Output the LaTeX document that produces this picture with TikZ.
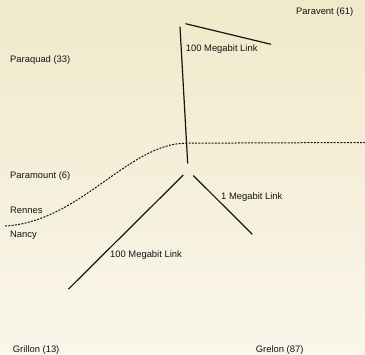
\documentclass[tikz,border=0pt]{standalone}
\usepackage{fontspec}
\setmainfont{Liberation Sans}
\definecolor{bgtop}{RGB}{240,233,202}
\definecolor{bgbot}{RGB}{250,246,234}
\definecolor{ink}{RGB}{20,20,20}
\begin{document}
\begin{tikzpicture}[x=1pt,y=-1pt,
  lbl/.style={anchor=base west,inner sep=0pt,font=\fontsize{9.4}{11}\selectfont,text=ink},
  link/.style={line width=1.2pt,draw=ink},
  border/.style={line width=1pt,draw=ink,dash pattern=on 2pt off 1.3pt}]
\useasboundingbox (0,0) rectangle (365,355);
\shade[top color=bgtop,bottom color=bgbot] (0,0) rectangle (365,355);
% labels
\node[lbl] (paravent) at (296,14.7) {Paravent (61)};
\node[lbl] (linkA) at (185.7,52) {100 Megabit Link};
\node[lbl] (paraquad) at (10,62.3) {Paraquad (33)};
\node[lbl] (paramount) at (10,179) {Paramount (6)};
\node[lbl] (linkB) at (221,199.3) {1 Megabit Link};
\node[lbl] (rennes) at (10,214) {Rennes};
\node[lbl] (nancy) at (10,237.6) {Nancy};
\node[lbl] (linkC) at (110,257.6) {100 Megabit Link};
\node[lbl] (grillon) at (12.7,352.3) {Grillon (13)};
\node[lbl] (grelon) at (255.7,352.3) {Grelon (87)};
% link end points
\coordinate (a1) at (185.5,23.7);
\coordinate (a2) at (271,44.3);
\coordinate (b1) at (180,26.7);
\coordinate (b2) at (187.7,163.5);
\coordinate (c1) at (183.3,175);
\coordinate (c2) at (68.3,289.3);
\coordinate (d1) at (193.3,175.5);
\coordinate (d2) at (252.3,234.3);
\coordinate (s0) at (5,226);
\coordinate (s1) at (186,143.2);
\coordinate (s2) at (365,142.5);
\draw[link] (a1) -- (a2);
\draw[link] (b1) -- (b2);
\draw[link] (c1) -- (c2);
\draw[link] (d1) -- (d2);
\draw[border] (s0) .. controls (80,222) and (128,143.5) .. (s1) -- (s2);
\end{tikzpicture}
\end{document}
